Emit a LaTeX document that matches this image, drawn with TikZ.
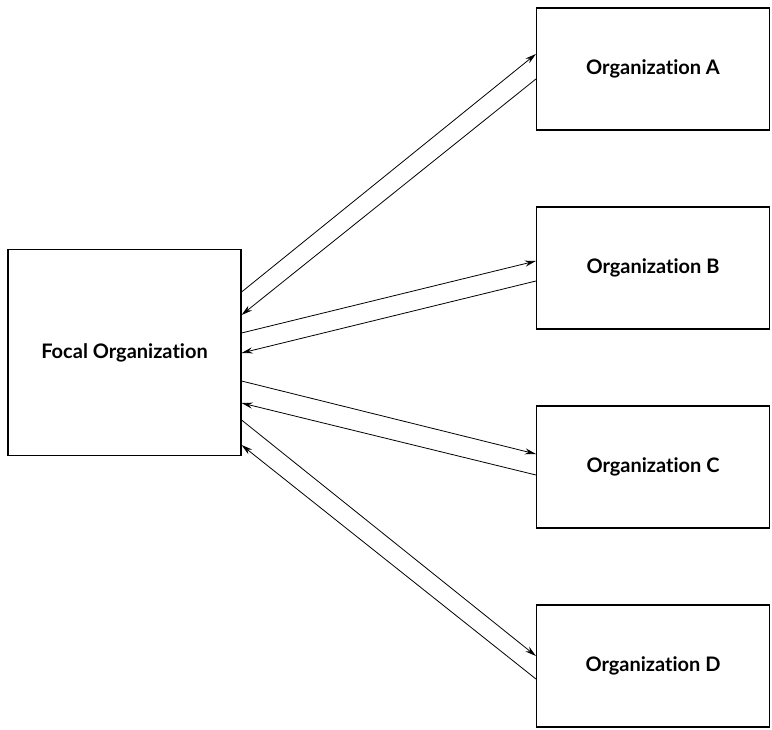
\documentclass[tikz,border=0pt]{standalone}
\usepackage{fontspec}
\setmainfont[Ligatures=NoCommon]{Lato}
\usetikzlibrary{arrows.meta}

\begin{document}
\begin{tikzpicture}[x=1pt,y=-1pt,
    orgbox/.style={draw,line width=1.1pt,minimum width=233pt,minimum height=122pt,font=\bfseries\fontsize{20}{23}\selectfont},
    link/.style={line width=0.8pt,-{Stealth[length=11pt,width=6pt]}}]
    \useasboundingbox (0,0) rectangle (772,730);
    \node[orgbox,minimum height=206pt] (focal) at (124.5,352.5) {Focal Organization};
    \node[orgbox] (orgA) at (653,69) {Organization A};
    \node[orgbox] (orgB) at (653,268) {Organization B};
    \node[orgbox] (orgC) at (653,467) {Organization C};
    \node[orgbox] (orgD) at (653,666) {Organization D};
    % out and back
    \draw[link] ([yshift=60.5pt]focal.east) -- ([yshift=15pt]orgA.west);
    \draw[link] ([yshift=-10pt]orgA.west) -- ([yshift=37.5pt]focal.east);
    \draw[link] ([yshift=19.5pt]focal.east) -- ([yshift=7pt]orgB.west);
    \draw[link] ([yshift=-13pt]orgB.west) -- ([yshift=-0.5pt]focal.east);
    \draw[link] ([yshift=-28.5pt]focal.east) -- ([yshift=13pt]orgC.west);
    \draw[link] ([yshift=-8pt]orgC.west) -- ([yshift=-50.5pt]focal.east);
    \draw[link] ([yshift=-67.5pt]focal.east) -- ([yshift=10pt]orgD.west);
    \draw[link] ([yshift=-13pt]orgD.west) -- ([yshift=-92.5pt]focal.east);
  \end{tikzpicture}
\end{document}
